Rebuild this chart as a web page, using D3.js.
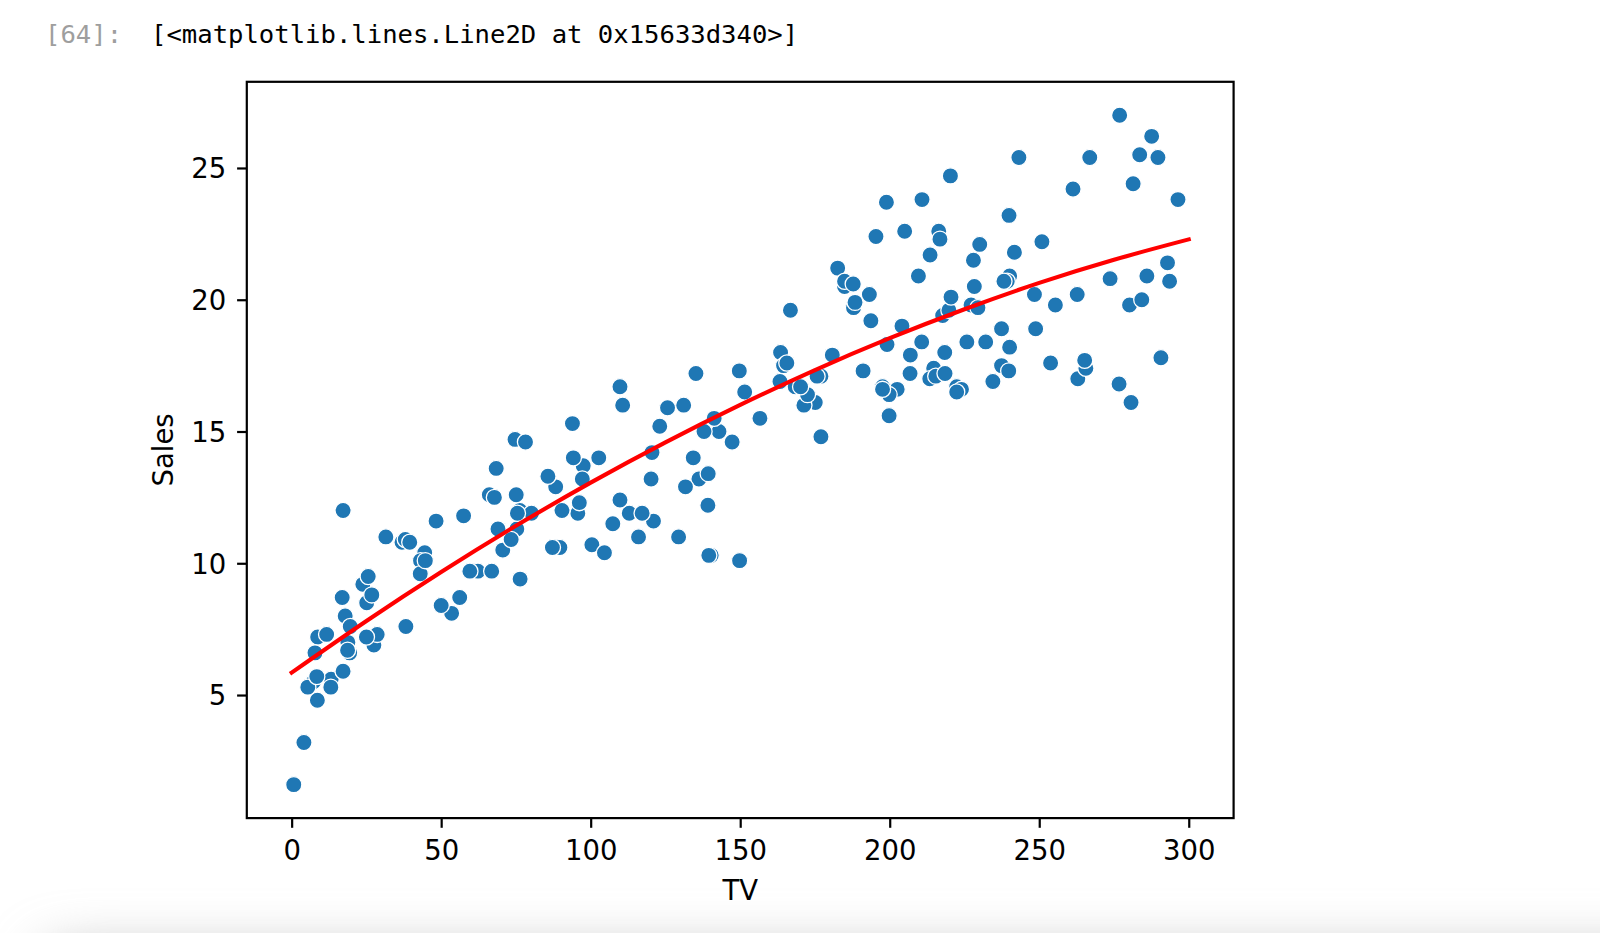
<!DOCTYPE html>
<html>
<head>
<meta charset="utf-8">
<script src="https://cdn.jsdelivr.net/npm/d3@7"></script>
<style>
  html, body { margin: 0; padding: 0; background: #fff; }
  svg { display: block; }
</style>
</head>
<body>
<svg id="chart" width="1600" height="933"></svg>
<script>
// ---- data (Advertising: TV spend vs Sales) ----
const tv = [230.1,44.5,17.2,151.5,180.8,8.7,57.5,120.2,8.6,199.8,66.1,214.7,23.8,97.5,204.1,195.4,67.8,281.4,69.2,147.3,
218.4,237.4,13.2,228.3,62.3,262.9,142.9,240.1,248.8,70.6,292.9,112.9,97.2,265.6,95.7,290.7,266.9,74.7,43.1,228,
202.5,177,293.6,206.9,25.1,175.1,89.7,239.9,227.2,66.9,199.8,100.4,216.4,182.6,262.7,198.9,7.3,136.2,210.8,210.7,
53.5,261.3,239.3,102.7,131.1,69,31.5,139.3,237.4,216.8,199.1,109.8,26.8,129.4,213.4,16.9,27.5,120.5,5.4,116,
76.4,239.8,75.3,68.4,213.5,193.2,76.3,110.7,88.3,109.8,134.3,28.6,217.7,250.9,107.4,163.3,197.6,184.9,289.7,135.2,
222.4,296.4,280.2,187.9,238.2,137.9,25,90.4,13.1,255.4,225.8,241.7,175.7,209.6,78.2,75.1,139.2,76.4,125.7,19.4,
141.3,18.8,224,123.1,229.5,87.2,7.8,80.2,220.3,59.6,0.7,265.2,8.4,219.8,36.9,48.3,25.6,273.7,43,184.9,
73.4,193.7,220.5,104.6,96.2,140.3,240.1,243.2,38,44.7,280.7,121,197.6,171.3,187.8,4.1,93.9,149.8,11.7,131.7,
172.5,85.7,188.4,163.5,117.2,234.5,17.9,206.8,215.4,284.3,50,164.5,19.6,168.4,222.4,276.9,248.4,170.2,276.7,165.6,
156.6,218.5,56.2,287.6,253.8,205,139.5,191.1,286,18.7,39.5,75.5,17.2,166.8,149.7,38.2,94.2,177,283.6,232.1];
const sales = [22.1,10.4,12,16.5,17.9,7.2,11.8,13.2,4.8,15.6,12.6,17.4,9.2,13.7,19,22.4,12.5,24.4,11.3,14.6,
18,17.5,5.6,20.5,9.7,17,15,20.9,18.9,10.5,21.4,11.9,13.2,17.4,11.9,17.8,25.4,14.7,10.1,21.5,
16.6,17.1,20.7,17.9,8.5,16.1,10.6,23.2,19.8,9.7,16.4,10.7,22.6,21.2,20.2,23.7,5.5,13.2,23.8,18.4,
8.1,24.2,20.7,14,16,11.3,11,13.4,18.9,22.3,18.3,12.4,8.8,11,17,8.7,6.9,14.2,5.3,11,
11.8,17.3,11.3,13.6,21.7,20.2,12,16,12.9,16.7,14,7.3,19.4,22.2,11.5,16.9,16.7,20.5,25.4,17.2,
16.7,23.8,19.8,19.7,20.7,15,7.2,12,5.3,19.8,18.4,21.8,17.1,20.9,14.6,12.6,12.2,9.4,15.9,6.6,
15.5,7,16.6,15.2,19.7,10.6,6.6,11.9,24.7,9.7,1.6,17.7,5.7,19.6,10.8,11.6,9.5,20.8,9.6,20.7,
10.9,19.2,20.1,10.4,12.3,10.3,18.2,25.4,10.9,10.1,16.1,11.6,16.6,16,20.6,3.2,15.3,10.1,7.3,12.9,
16.4,13.3,19.9,18,11.9,16.9,8,17.2,17.1,20,8.4,17.5,7.6,16.7,16.5,27,20.2,16.7,16.8,17.6,
15.5,17.2,8.7,26.2,17.6,22.6,10.3,17.3,20.9,6.7,10.8,11.9,5.9,19.6,17.3,7.6,14,14.8,25.5,18.4];

// fitted curve
const fitTV    = [0, 25, 50, 75, 100, 125, 150, 175, 200, 225, 250, 275, 300];
const fitSales = [5.85, 7.81, 9.67, 11.42, 13.06, 14.59, 16.01, 17.33, 18.54, 19.64, 20.64, 21.52, 22.29];

const xTicks = [0, 50, 100, 150, 200, 250, 300];
const yTicks = [5, 10, 15, 20, 25];
const promptText = "[64]:";
const outText = "[<matplotlib.lines.Line2D at 0x15633d340>]";
const xLabel = "TV";
const yLabel = "Sales";

// ---- layout ----
const svg = d3.select("#chart");
const L = 246.8, R = 1233.6, T = 81.8, B = 818.1;
const x = d3.scaleLinear().domain([-15, 315]).range([L, R]);
const y = d3.scaleLinear().domain([0.33, 28.27]).range([B, T]);

svg.append("rect").attr("width", 1600).attr("height", 933).attr("fill", "#fff");

// bottom shadow (notebook scroll shadow)
const defs = svg.append("defs");
const f = defs.append("filter").attr("id", "blur").attr("x", "-20%").attr("y", "-200%").attr("width", "140%").attr("height", "500%");
f.append("feGaussianBlur").attr("stdDeviation", 26);
svg.append("rect").attr("x", 40).attr("y", 950).attr("width", 1700).attr("height", 200)
  .attr("rx", 30).attr("fill", "#bcbcbc").attr("filter", "url(#blur)");

// header text
svg.append("text").attr("x", 45).attr("y", 43.3)
  .attr("font-family", "'DejaVu Sans Mono', monospace").attr("font-size", 25.6)
  .attr("fill", "#9e9e9e").attr("xml:space", "preserve").text(promptText);
svg.append("text").attr("x", 151).attr("y", 43.3)
  .attr("font-family", "'DejaVu Sans Mono', monospace").attr("font-size", 25.6)
  .attr("fill", "#000").text(outText);

// points
const pts = tv.map((t, i) => ({ t: t, s: sales[i] }));
svg.append("g").selectAll("circle").data(pts).join("circle")
  .attr("cx", d => x(d.t)).attr("cy", d => y(d.s)).attr("r", 8.1)
  .attr("fill", "#1f77b4").attr("stroke", "#fff").attr("stroke-width", 1.3);

// fitted line
const fit = fitTV.map((t, i) => [t, fitSales[i]]);
svg.append("path").datum(fit)
  .attr("d", d3.line().x(d => x(d[0])).y(d => y(d[1])).curve(d3.curveNatural))
  .attr("fill", "none").attr("stroke", "#ff0000").attr("stroke-width", 4.1)
  .attr("stroke-linecap", "square");

// spines
svg.append("rect").attr("x", L).attr("y", T).attr("width", R - L).attr("height", B - T)
  .attr("fill", "none").attr("stroke", "#000").attr("stroke-width", 2.2);

// axes
const xAxis = svg.append("g").attr("transform", `translate(0,${B})`)
  .call(d3.axisBottom(x).tickValues(xTicks).tickSize(9.7).tickPadding(10).tickFormat(d3.format("d")));
const yAxis = svg.append("g").attr("transform", `translate(${L},0)`)
  .call(d3.axisLeft(y).tickValues(yTicks).tickSize(9.7).tickPadding(10).tickFormat(d3.format("d")));
[xAxis, yAxis].forEach(g => {
  g.select(".domain").remove();
  g.selectAll(".tick line").attr("stroke", "#000").attr("stroke-width", 2.2);
  g.selectAll(".tick text").attr("fill", "#000")
    .attr("font-family", "'DejaVu Sans', sans-serif").attr("font-size", 27.5);
});
xAxis.selectAll(".tick text").attr("dy", null).attr("y", 42);
yAxis.selectAll(".tick text").attr("dy", "0.36em").attr("x", -20.5);

// axis labels
svg.append("text").attr("x", (L + R) / 2).attr("y", 900).attr("text-anchor", "middle")
  .attr("font-family", "'DejaVu Sans', sans-serif").attr("font-size", 27.5).attr("fill", "#000").text(xLabel);
svg.append("text").attr("transform", `translate(173,${(T + B) / 2}) rotate(-90)`)
  .attr("text-anchor", "middle")
  .attr("font-family", "'DejaVu Sans', sans-serif").attr("font-size", 27.5).attr("fill", "#000").text(yLabel);
</script>
</body>
</html>
